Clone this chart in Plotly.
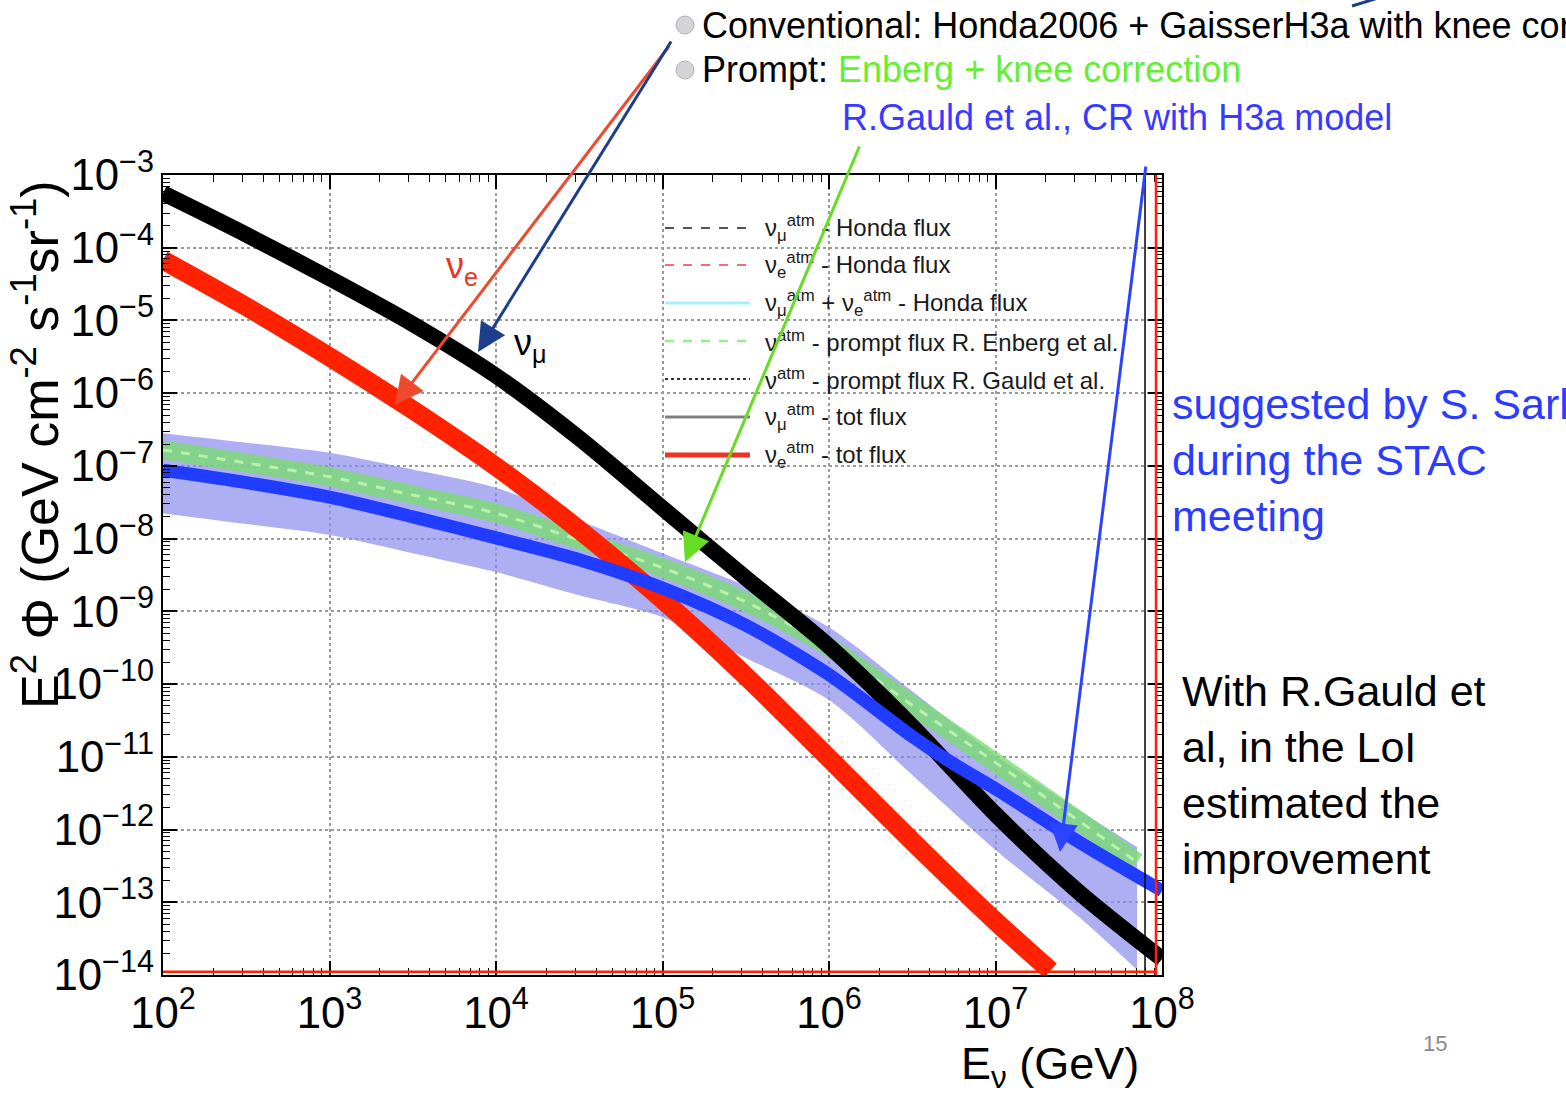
import plotly.graph_objects as go

# ---------------------------------------------------------------------------
# Atmospheric neutrino fluxes, E^2 * Phi  [GeV cm^-2 s^-1 sr^-1]
# values are log10 of the flux, energies are log10(E / GeV)
# ---------------------------------------------------------------------------
log_e = [2.0, 2.5, 3.0, 3.5, 4.0, 4.5, 5.0, 5.5, 6.0, 6.5, 7.0, 7.5, 8.0]
numu_tot = [-3.25, -3.82, -4.42, -5.05, -5.76, -6.62, -7.58, -8.54, -9.48,
            -10.58, -11.79, -12.86, -13.78]

log_e_gauld = [2.0, 2.5, 3.0, 3.5, 4.0, 4.5, 5.0, 5.5, 6.0, 6.5, 6.75, 7.0, 7.5, 8.0]
gauld_prompt = [-7.06, -7.23, -7.43, -7.70, -7.99, -8.29, -8.68, -9.19, -9.87,
                -10.72, -11.10, -11.44, -12.17, -12.84]

log_e_nue = [2.0, 2.5, 3.0, 3.5, 4.0, 4.5, 5.0, 5.5, 6.0, 6.5, 7.0, 7.33]
nue_tot = [-4.17, -4.81, -5.50, -6.23, -7.01, -7.88, -8.84, -9.89, -11.02,
           -12.16, -13.26, -13.94]

log_e_prompt = [2.0, 2.5, 3.0, 3.5, 4.0, 4.5, 5.0, 5.5, 6.0, 6.5, 7.0, 7.5, 7.85]
enberg_prompt = [-6.78, -6.96, -7.15, -7.40, -7.65, -8.02, -8.40, -8.87, -9.49,
                 -10.29, -11.08, -11.88, -12.45]
gauld_band_hi = [-6.55, -6.68, -6.82, -7.05, -7.30, -7.75, -8.20, -8.65, -9.22,
                 -10.10, -10.98, -11.73, -12.24]
gauld_band_lo = [-7.65, -7.80, -7.95, -8.20, -8.46, -8.78, -9.08, -9.64, -10.22,
                 -11.25, -12.28, -13.20, -13.93]

legend_labels = [
    "ν<sub>μ</sub><sup>atm</sup> - Honda flux",
    "ν<sub>e</sub><sup>atm</sup> - Honda flux",
    "ν<sub>μ</sub><sup>atm</sup> + ν<sub>e</sub><sup>atm</sup> - Honda flux",
    "ν<sup>atm</sup> - prompt flux R. Enberg et al.",
    "ν<sup>atm</sup> - prompt flux R. Gauld et al.",
    "ν<sub>μ</sub><sup>atm</sup> - tot flux",
    "ν<sub>e</sub><sup>atm</sup> - tot flux",
]
legend_colors = ["#555555", "#f07070", "#a8f0ff", "#90ee90", "#333333", "#808080", "#ee3322"]
legend_dashes = ["dash", "dash", "solid", "dash", "dot", "solid", "solid"]
legend_widths = [2, 2, 3, 2.5, 2, 3, 5]


def lin(vals):
    return [10 ** v for v in vals]


FONT = "Liberation Sans, Arial, Helvetica, sans-serif"
W, H = 1566, 1099
L, R, T, B = 163, 404, 175, 124


def px(x):
    return (x - L) / (W - L - R)


def py(y):
    return (H - B - y) / (H - T - B)


SPLINE = dict(shape="spline", smoothing=0.8)

fig = go.Figure()

# R. Gauld et al. uncertainty band
fig.add_trace(go.Scatter(x=lin(log_e_prompt), y=lin(gauld_band_hi), mode="lines",
                         line=dict(width=0, color="rgba(0,0,0,0)", **SPLINE),
                         showlegend=False, hoverinfo="skip"))
fig.add_trace(go.Scatter(x=lin(log_e_prompt), y=lin(gauld_band_lo), mode="lines",
                         line=dict(width=0, color="rgba(0,0,0,0)", **SPLINE),
                         fill="tonexty", fillcolor="rgba(140,140,238,0.70)",
                         showlegend=False, hoverinfo="skip"))

# Enberg prompt flux (thick band + dashed centre)
fig.add_trace(go.Scatter(x=lin(log_e_prompt), y=lin(enberg_prompt), mode="lines",
                         line=dict(width=19, color="rgba(120,220,110,0.78)", **SPLINE),
                         showlegend=False))
fig.add_trace(go.Scatter(x=lin(log_e_prompt), y=lin(enberg_prompt), mode="lines",
                         line=dict(width=3, color="#b8f2a8", dash="dash", **SPLINE),
                         showlegend=False))

# total nu_e and nu_mu fluxes
fig.add_trace(go.Scatter(x=lin(log_e_nue), y=lin(nue_tot), mode="lines",
                         line=dict(width=19, color="#ff2200", **SPLINE),
                         showlegend=False))
fig.add_trace(go.Scatter(x=lin(log_e), y=lin(numu_tot), mode="lines",
                         line=dict(width=16, color="#000000", **SPLINE),
                         showlegend=False))

# R. Gauld et al. central prompt flux
fig.add_trace(go.Scatter(x=lin(log_e_gauld), y=lin(gauld_prompt), mode="lines",
                         line=dict(width=13, color="#1f3cff", **SPLINE),
                         showlegend=False))

axis_common = dict(
    type="log", dtick=1, exponentformat="power", showexponent="all",
    ticks="inside", ticklen=14, tickwidth=1.5, tickcolor="black",
    minor=dict(ticks="inside", ticklen=7, tickwidth=1.2, tickcolor="black", showgrid=False),
    showline=True, linecolor="black", linewidth=2, mirror="allticks",
    showgrid=True, gridcolor="#9a9a9a", griddash="dot", gridwidth=1.5,
    zeroline=False, tickfont=dict(family=FONT, size=35, color="black"),
)
fig.update_xaxes(range=[2, 8], **axis_common)
fig.update_yaxes(range=[-14, -3], **axis_common)

shapes = []
# inner frame lines of the figure border
shapes.append(dict(type="line", xref="paper", yref="paper", x0=0.994, x1=0.994, y0=0, y1=1,
                   line=dict(color="#ff2200", width=2.5)))
shapes.append(dict(type="line", xref="paper", yref="paper", x0=0.983, x1=0.983, y0=0, y1=1,
                   line=dict(color="black", width=1.5)))
shapes.append(dict(type="line", xref="paper", yref="paper", x0=0, x1=0.994, y0=0.004, y1=0.004,
                   line=dict(color="#ff2200", width=2.5)))

annotations = []

# legend drawn inside the frame
row_y = [228, 265, 303, 341, 379, 417, 455]
for lab, col, dsh, wd, yy in zip(legend_labels, legend_colors, legend_dashes, legend_widths, row_y):
    shapes.append(dict(type="line", xref="paper", yref="paper", x0=px(665), x1=px(750),
                       y0=py(yy), y1=py(yy), line=dict(color=col, width=wd, dash=dsh)))
    annotations.append(dict(xref="paper", yref="paper", x=px(763), y=py(yy), text=lab,
                            showarrow=False, xanchor="left", yanchor="middle",
                            font=dict(family=FONT, size=24, color="#1a1a1a")))

# bullets of the slide header
for yy in (25, 70):
    shapes.append(dict(type="circle", xref="paper", yref="paper",
                       x0=px(676), x1=px(694), y0=py(yy + 9), y1=py(yy - 9),
                       fillcolor="#d4d4d8", line=dict(color="#b0b0b8", width=1)))

# stub of an arrow leaving the top edge
shapes.append(dict(type="line", xref="paper", yref="paper", x0=px(1352), x1=px(1378),
                   y0=py(6), y1=py(-2), line=dict(color="#1c3f8a", width=3)))

# arrows pointing at the curves: (tail x, tail y, head x, head y, colour)
arrows = [
    (670, 45, 395, 405, "#ee4a30"),
    (672, 40, 478, 352, "#1c3f8a"),
    (860, 145, 685, 562, "#66dd22"),
    (1146, 165, 1060, 852, "#2a44ff"),
]
for tx, ty, hx, hy, col in arrows:
    annotations.append(dict(xref="paper", yref="paper", x=px(hx), y=py(hy), ax=tx - hx, ay=ty - hy,
                            axref="pixel", ayref="pixel", text="", showarrow=True,
                            arrowhead=2, arrowsize=1.9, arrowwidth=3, arrowcolor=col))

texts = [
    (700, 25, "Conventional: Honda2006 + GaisserH3a with knee correction", 36, "black", "left"),
    (700, 70, "Prompt: <span style='color:#66ee33'>Enberg + knee correction</span>", 36, "black", "left"),
    (840, 117, "R.Gauld et al., CR with H3a model", 36, "#3a3aff", "left"),
    (1170, 460, "suggested by S. Sarkar<br>during the STAC<br>meeting", 43, "#2b3cff", "left"),
    (1180, 775, "With R.Gauld et<br>al, in the LoI<br>estimated the<br>improvement", 43, "black", "left"),
    (444, 268, "ν<sub>e</sub>", 36, "#ee3322", "left"),
    (512, 345, "ν<sub>μ</sub>", 36, "black", "left"),
    (1435, 1043, "15", 22, "#8a8a8a", "center"),
    (1050, 1066, "E<sub>ν</sub> (GeV)", 45, "black", "center"),
]
for xx, yy, txt, sz, col, anc in texts:
    annotations.append(dict(xref="paper", yref="paper", x=px(xx), y=py(yy), text=txt,
                            showarrow=False, xanchor=anc, yanchor="middle", align="left",
                            font=dict(family=FONT, size=sz, color=col)))

# y axis title
annotations.append(dict(xref="paper", yref="paper", x=px(36), y=py(445), textangle=-90,
                        text="E<sup>2</sup> Φ (GeV cm<sup>-2</sup> s<sup>-1</sup>sr<sup>-1</sup>)",
                        showarrow=False, xanchor="center", yanchor="middle",
                        font=dict(family=FONT, size=52, color="black")))

fig.update_layout(
    width=W, height=H,
    margin=dict(l=L, r=R, t=T, b=B, autoexpand=False),
    paper_bgcolor="white", plot_bgcolor="white",
    showlegend=False,
    shapes=shapes, annotations=annotations,
    font=dict(family=FONT),
)

fig.write_html("out.html")
